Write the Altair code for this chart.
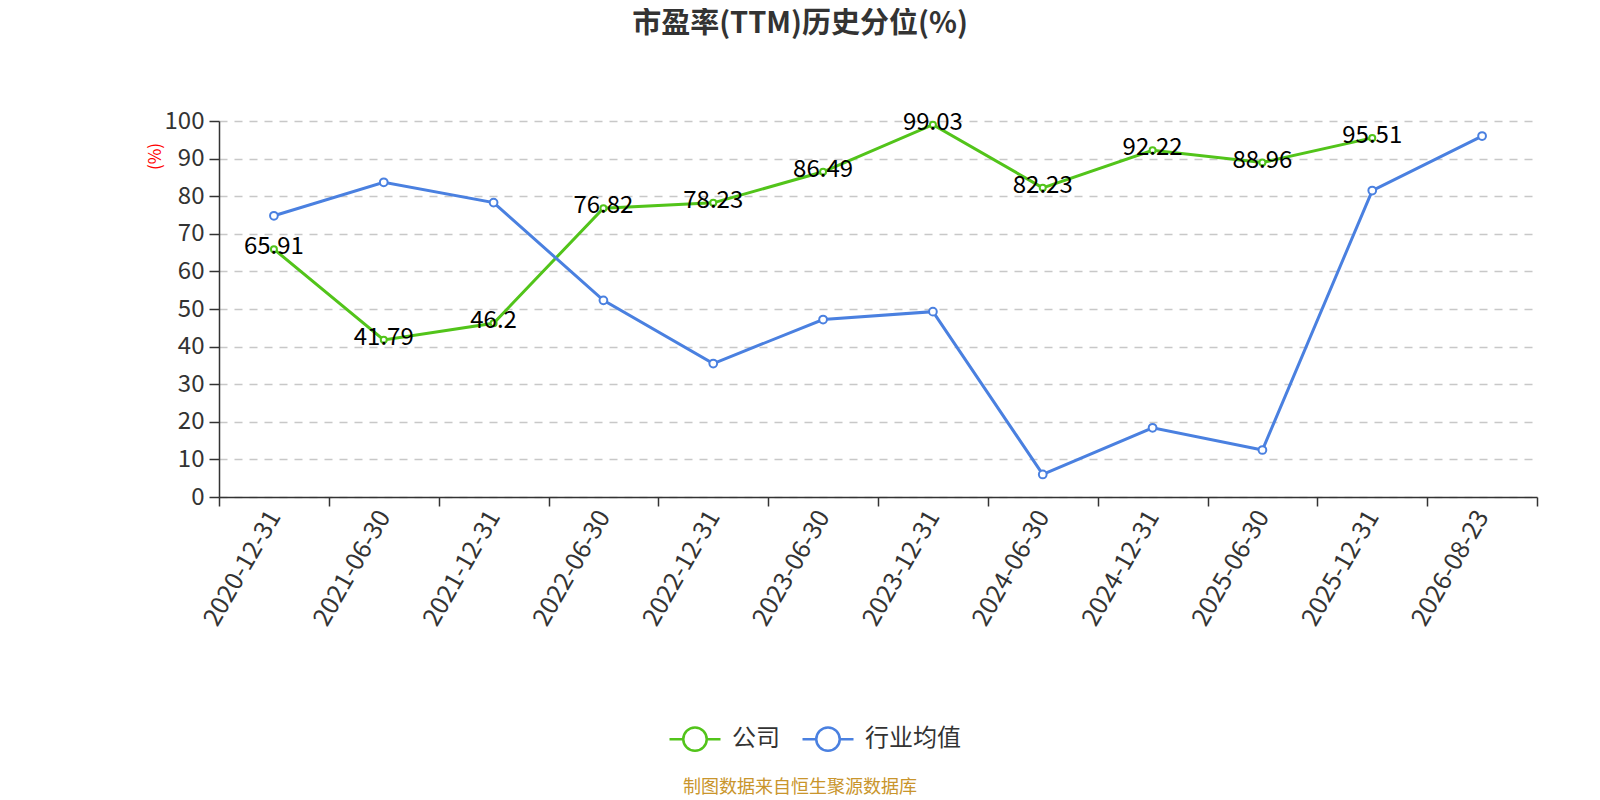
import altair as alt
import pandas as pd

dates = ["2020-12-31", "2021-06-30", "2021-12-31", "2022-06-30", "2022-12-31",
         "2023-06-30", "2023-12-31", "2024-06-30", "2024-12-31", "2025-06-30",
         "2025-12-31", "2026-08-23"]
company = [65.91, 41.79, 46.2, 76.82, 78.23, 86.49, 99.03, 82.23, 92.22, 88.96, 95.51, None]
industry = [74.8, 83.7, 78.3, 52.3, 35.5, 47.2, 49.3, 6.0, 18.4, 12.5, 81.5, 96.0]
series_names = ["公司", "行业均值"]
colors = ["#52c41a", "#4a80e0"]
y_ticks = [0, 10, 20, 30, 40, 50, 60, 70, 80, 90, 100]
title_text = "市盈率(TTM)历史分位(%)"
source_text = "制图数据来自恒生聚源数据库"

rows = []
for d, c, i in zip(dates, company, industry):
    rows.append({"date": d, "series": series_names[0], "value": c})
    rows.append({"date": d, "series": series_names[1], "value": i})
df = pd.DataFrame(rows)
df_label = df[(df["series"] == series_names[0]) & df["value"].notna()].copy()
df_label["label"] = df_label["value"].map(lambda v: f"{v:g}")

FONT = "Noto Sans CJK SC"

x_enc = alt.X(
    "date:O", sort=dates,
    scale=alt.Scale(type="band", domain=dates, paddingInner=0, paddingOuter=0),
    axis=alt.Axis(title=None, labelAngle=-60, labelAlign="right", labelBaseline="middle",
                  labelFontSize=25, labelColor="#333333", labelFont=FONT, labelPadding=6,
                  labelOverlap=False,
                  tickBand="extent", ticks=True, tickSize=9, tickColor="#333333",
                  tickWidth=1.5, domainColor="#333333", domainWidth=1.5, grid=False),
)
y_enc = alt.Y(
    "value:Q",
    scale=alt.Scale(domain=[0, 100], nice=False, zero=True),
    axis=alt.Axis(title="(%)", titleColor="red", titleFontSize=17, titleFont=FONT,
                  titleFontWeight="normal", titleAngle=-90,
                  titleX=-64, titleY=35, titleAlign="center", titleBaseline="middle",
                  values=y_ticks, labelOverlap=False, labelFontSize=24, labelColor="#333333",
                  labelFont=FONT, tickSize=10, tickColor="#333333", tickWidth=1.5,
                  domainColor="#333333", domainWidth=1.5, labelPadding=5,
                  grid=True, gridColor="#c8c8c8", gridDash=[8, 7], gridWidth=1.5),
)
legend_path = ("M-1,0L-0.46,0M0.46,0L1,0M-0.46,0A0.46,0.46,0,1,0,0.46,0"
               "A0.46,0.46,0,1,0,-0.46,0")
color_enc = alt.Color(
    "series:N",
    scale=alt.Scale(domain=series_names, range=colors),
    legend=alt.Legend(title=None, orient="none", legendX=449, legendY=591,
                      direction="horizontal", symbolType=legend_path, symbolSize=2601,
                      symbolFillColor="white", symbolStrokeWidth=2.5,
                      labelFontSize=24, labelColor="#333333", labelFont=FONT,
                      labelOffset=10, columnPadding=17),
)

lines = alt.Chart(df).mark_line(strokeWidth=3).encode(x=x_enc, y=y_enc, color=color_enc)
points = alt.Chart(df).mark_point(filled=True, fill="white", strokeWidth=2, opacity=1).encode(
    x=x_enc,
    y=y_enc,
    stroke=alt.Stroke("series:N", scale=alt.Scale(domain=series_names, range=colors), legend=None),
    size=alt.Size("series:N", scale=alt.Scale(domain=series_names, range=[36, 60]), legend=None),
)
labels = alt.Chart(df_label).mark_text(fontSize=24, color="black", font=FONT, dy=-2,
                                       align="center", baseline="middle").encode(
    x=x_enc, y=y_enc, text="label:N")
source = alt.Chart(pd.DataFrame({"t": [source_text]})).mark_text(
    fontSize=18, color="#c9952c", font=FONT, align="center", baseline="middle").encode(
    text="t:N", x=alt.value(581), y=alt.value(667))
title = alt.Chart(pd.DataFrame({"t": [title_text]})).mark_text(
    fontSize=29, color="#333333", font=FONT, fontWeight="bold",
    align="center", baseline="middle").encode(
    text="t:N", x=alt.value(581), y=alt.value(-97))

chart = alt.layer(lines, points, labels, source, title).properties(
    width=1318, height=376,
    background="white",
    autosize=alt.AutoSizeParams(type="none"),
    padding={"left": 211, "top": 113, "right": 40, "bottom": 302},
).resolve_scale(stroke="independent", size="independent").configure_view(stroke=None)

chart.save("out.html", embed_options={"renderer": "svg", "actions": False})
